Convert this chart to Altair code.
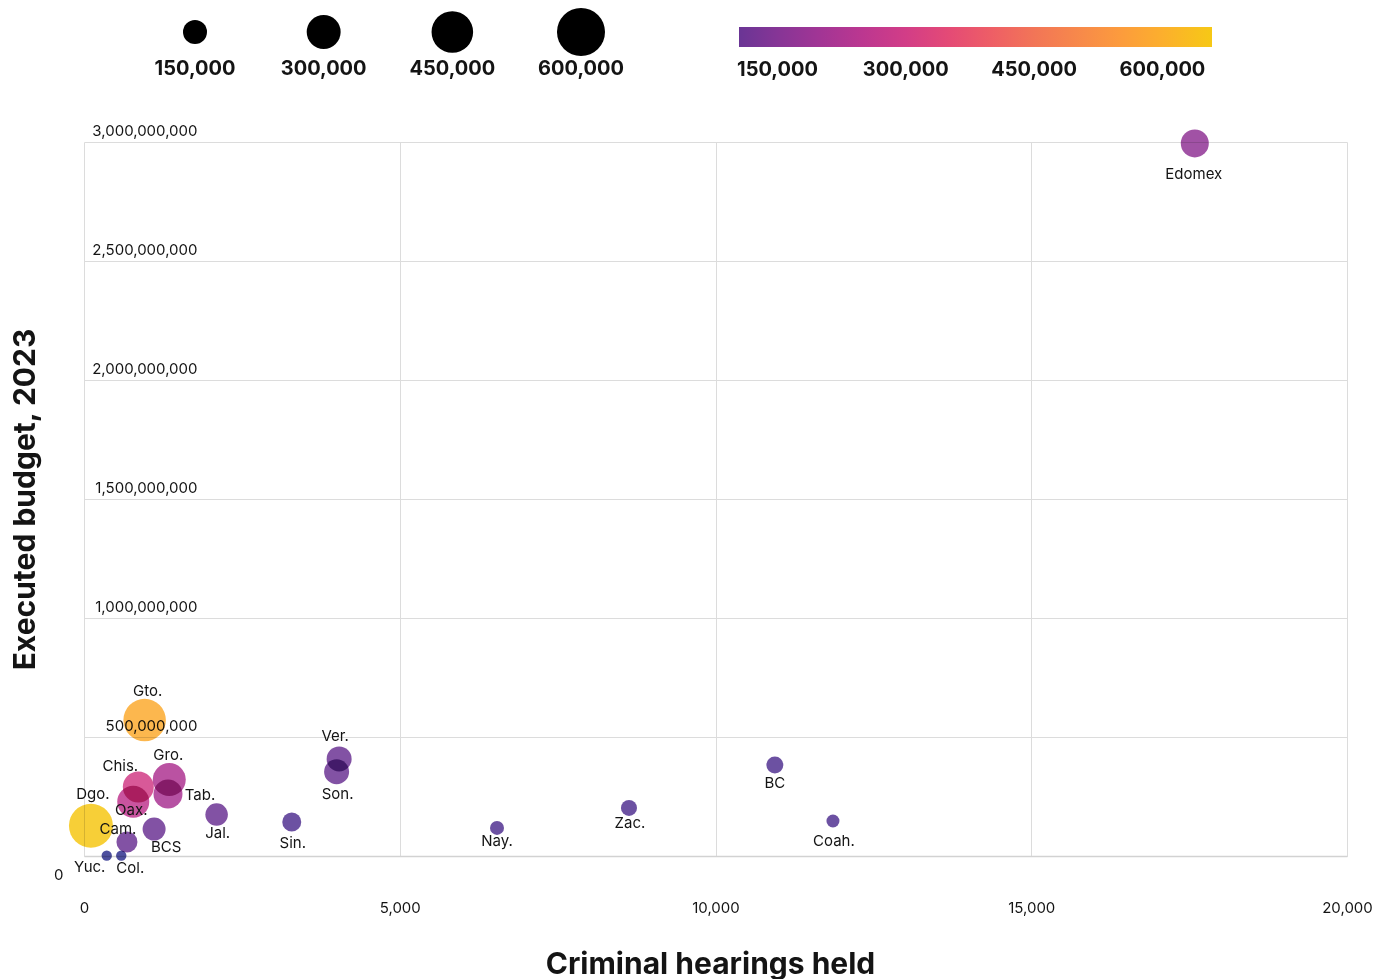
import altair as alt
import pandas as pd

FONT = "Inter"
INK = "#141414"
GRID = "#dcdcdc"

# ---- data ----
states = ["Edomex", "Gto.", "Chis.", "Gro.", "Tab.", "Dgo.", "Oax.", "Cam.", "BCS", "Jal.",
          "Yuc.", "Col.", "Sin.", "Ver.", "Son.", "Nay.", "Zac.", "BC", "Coah."]
hearings = [17590, 960, 860, 1350, 1330, 110, 780, 680, 1110, 2100,
            360, 590, 3290, 4040, 4000, 6540, 8630, 10940, 11860]
budget = [2994e6, 571e6, 290e6, 321e6, 260e6, 127e6, 228e6, 59e6, 113e6, 174e6,
          1.5e6, 1.5e6, 143e6, 408e6, 354e6, 118e6, 202e6, 382e6, 147e6]
size_vals = [204000, 470000, 250000, 284000, 219000, 504000, 267000, 115000, 138000, 132000,
             28000, 28000, 94000, 163000, 163000, 51000, 67000, 75000, 44000]
color_vals = [170000, 590000, 300000, 225000, 215000, 655000, 260000, 110000, 110000, 110000,
              28000, 30000, 72000, 110000, 110000, 72000, 72000, 72000, 72000]

legend_values = [150000, 300000, 450000, 600000]
x_ticks = [0, 5000, 10000, 15000, 20000]
y_ticks = [0, 500e6, 1000e6, 1500e6, 2000e6, 2500e6, 3000e6]

# label placement (pixel offsets from bubble centre)
label_offsets = {
    "Edomex": (-1, 31), "Gto.": (3, -29), "Chis.": (-18, -21), "Gro.": (-1, -25),
    "Tab.": (32, 1), "Dgo.": (2, -32), "Oax.": (-2, 8), "Cam.": (-9, -13),
    "BCS": (12, 18), "Jal.": (1, 18), "Yuc.": (-17, 11), "Col.": (9, 12),
    "Sin.": (1, 21), "Ver.": (-4, -23), "Son.": (1, 22), "Nay.": (0, 13),
    "Zac.": (1, 15), "BC": (0, 18), "Coah.": (1, 20),
}

df = pd.DataFrame({"state": states, "hearings": hearings, "budget": budget,
                   "sz": size_vals, "col": color_vals})

COLOR_DOMAIN = [105000, 285000, 470000, 658000]
COLOR_RANGE = ["#6a3595", "#cc3a8c", "#f27e52", "#f6c815"]
LOW_DOMAIN = [25000, 105000]
LOW_RANGE = ["#2c338f", "#6a3595"]
OPACITY = 0.86

size_scale = alt.Scale(domain=[0, 600000], range=[0, 2304], zero=True)

x_enc = alt.X(
    "hearings:Q",
    scale=alt.Scale(domain=[0, 20000], nice=False, zero=True),
    axis=alt.Axis(
        values=x_ticks, format=",.0f", title="Criminal hearings held",
        grid=True, gridColor=GRID, gridWidth=1, ticks=False, tickSize=0,
        domain=True, domainColor="#d2d2d2", domainWidth=1.5,
        labelFlush=False, labelPadding=51, labelBaseline="middle",
        labelFont=FONT, labelFontSize=15, labelColor=INK,
        titleFont=FONT, titleFontSize=30, titleFontWeight="bold", titleColor=INK,
        titleX=626, titleY=117, titleAlign="center", titleBaseline="alphabetic",
    ),
)

y_enc = alt.Y(
    "budget:Q",
    scale=alt.Scale(domain=[0, 3e9], nice=False, zero=True),
    axis=alt.Axis(
        values=y_ticks, format=",.0f", title="Executed budget, 2023",
        grid=True, gridColor=GRID, gridWidth=1, ticks=False, tickSize=0, domain=False,
        labelAlign="right", labelBaseline="middle", labelOverlap=False,
        labelPadding={"condition": {"test": "datum.value === 0", "value": 21}, "value": -113},
        labelOffset={"condition": {"test": "datum.value === 0", "value": 18}, "value": -12},
        labelFont=FONT, labelFontSize=15, labelColor=INK,
        titleFont=FONT, titleFontSize=30, titleFontWeight="bold", titleColor=INK,
        titleX=-50, titleY=357, titleAlign="center", titleBaseline="alphabetic",
    ),
)

points_main = alt.Chart(df).transform_filter(
    alt.datum.col >= COLOR_DOMAIN[0]
).mark_circle(opacity=OPACITY, blend="multiply").encode(
    x=x_enc, y=y_enc,
    size=alt.Size("sz:Q", scale=size_scale, legend=None),
    color=alt.Color(
        "col:Q",
        scale=alt.Scale(domain=COLOR_DOMAIN, range=COLOR_RANGE, clamp=True),
        legend=alt.Legend(
            orient="none", legendX=655, legendY=-115, direction="horizontal",
            title=None, gradientLength=473, gradientThickness=20,
            gradientStrokeWidth=0, gradientOpacity=1, values=legend_values, format=",.0f",
            labelFont=FONT, labelFontSize=20, labelFontWeight="bold",
            labelColor=INK, labelOffset=13, labelOverlap=False,
        ),
    ),
)

points_low = alt.Chart(df).transform_filter(
    alt.datum.col < COLOR_DOMAIN[0]
).mark_circle(opacity=OPACITY, blend="multiply").encode(
    x=x_enc, y=y_enc,
    size=alt.Size("sz:Q", scale=size_scale, legend=None),
    color=alt.Color("col:Q", scale=alt.Scale(domain=LOW_DOMAIN, range=LOW_RANGE, clamp=True),
                    legend=None),
)

label_layers = []
for name in states:
    dx, dy = label_offsets[name]
    label_layers.append(
        alt.Chart(df).transform_filter(alt.datum.state == name).mark_text(
            dx=dx, dy=dy, font=FONT, fontSize=15, color=INK, baseline="middle", align="center"
        ).encode(x=x_enc, y=y_enc, text="state:N")
    )

main = alt.layer(points_main, points_low, *label_layers).properties(
    width=1263, height=714, view=alt.ViewBackground(stroke=None)
).resolve_scale(color="independent")

# ---- size legend row ----
leg_df = pd.DataFrame({"v": legend_values})
lx = alt.X("v:O", axis=None, sort=None, scale=alt.Scale(type="point", padding=0.8627))
leg_circles = alt.Chart(leg_df).mark_circle(color="black", opacity=1).encode(
    x=lx, size=alt.Size("v:Q", scale=size_scale, legend=None)
)
leg_text = alt.Chart(leg_df).mark_text(
    dy=37, font=FONT, fontSize=20, fontWeight="bold", color=INK, baseline="middle"
).encode(x=lx, text=alt.Text("v:Q", format=",.0f"))
top = alt.layer(leg_circles, leg_text).properties(
    width=608, height=48, view=alt.ViewBackground(stroke=None)
)

chart = alt.vconcat(top, main, spacing=86, bounds="flush").resolve_scale(
    x="independent", y="independent", color="independent", size="independent"
).properties(
    padding={"top": 0, "left": 2, "right": 5, "bottom": 0},
    background="white",
).configure_view(stroke=None)

chart.save("out.html", embed_options={"renderer": "svg", "actions": False})
